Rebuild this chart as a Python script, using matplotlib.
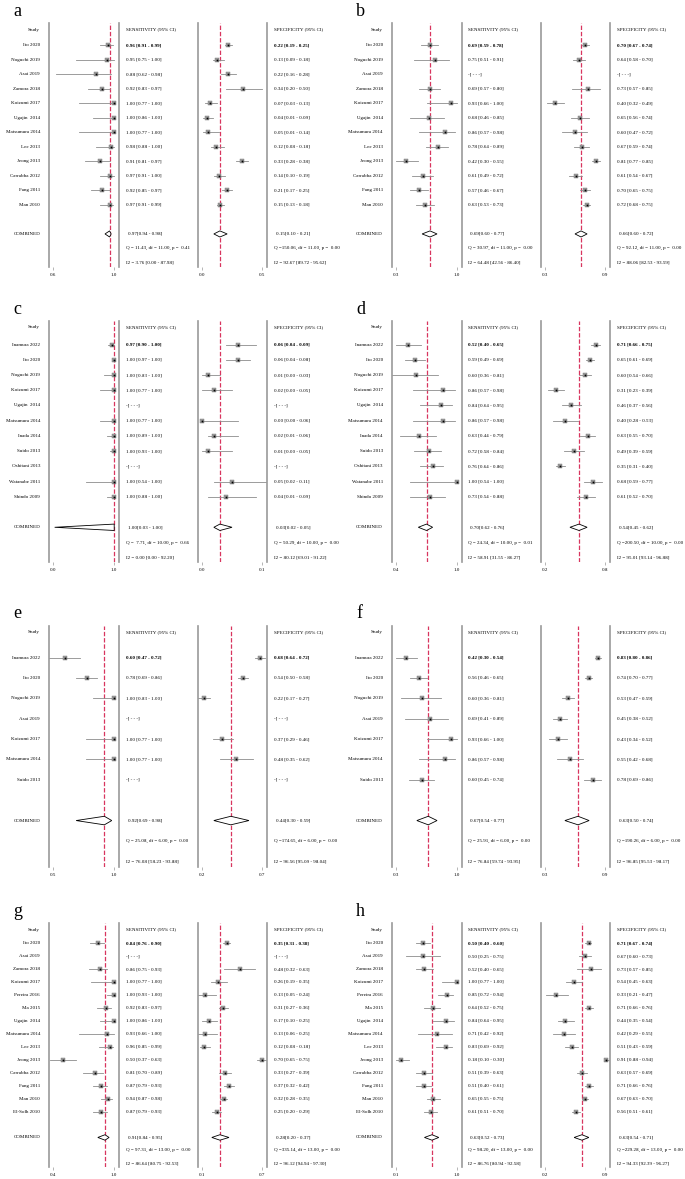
import matplotlib.pyplot as plt
from matplotlib.patches import Polygon

plt.rcParams['font.family'] = ['Liberation Serif', 'DejaVu Serif']

# ---- study names ----
studies_ab = ["Ito 2020", "Noguchi 2019", "Asai 2019", "Zamora 2018", "Koizumi 2017",
              "Ugajin  2014", "Matsumura 2014", "Lee 2013", "Jeong 2013",
              "Carrabba 2012", "Fang 2011", "Man 2010"]
studies_cd = ["Inamura 2022", "Ito 2020", "Noguchi 2019", "Koizumi 2017", "Ugajin  2014",
              "Matsumura 2014", "Inada 2014", "Suido 2013", "Oshitani 2013",
              "Watanabe 2011", "Shindo 2009"]
studies_ef = ["Inamura 2022", "Ito 2020", "Noguchi 2019", "Asai 2019", "Koizumi 2017",
              "Matsumura 2014", "Suido 2013"]
studies_gh = ["Ito 2020", "Asai 2019", "Zamora 2018", "Koizumi 2017", "Pereira 2016",
              "Ma 2015", "Ugajin  2014", "Matsumura 2014", "Lee 2013", "Jeong 2013",
              "Carrabba 2012", "Fang 2011", "Man 2010", "El-Solh 2010"]

# ---- (estimate, lower, upper); None = not estimable ----
sens_a = [(0.96, 0.91, 0.99), (0.95, 0.75, 1.00), (0.88, 0.62, 0.98), (0.92, 0.83, 0.97),
          (1.00, 0.77, 1.00), (1.00, 0.86, 1.00), (1.00, 0.77, 1.00), (0.98, 0.88, 1.00),
          (0.91, 0.81, 0.97), (0.97, 0.91, 1.00), (0.92, 0.85, 0.97), (0.97, 0.91, 0.99)]
spec_a = [(0.22, 0.19, 0.25), (0.13, 0.09, 0.18), (0.22, 0.16, 0.28), (0.34, 0.20, 0.50),
          (0.07, 0.03, 0.13), (0.04, 0.01, 0.09), (0.05, 0.01, 0.14), (0.12, 0.08, 0.18),
          (0.33, 0.28, 0.38), (0.14, 0.10, 0.19), (0.21, 0.17, 0.25), (0.15, 0.13, 0.18)]
sens_b = [(0.69, 0.59, 0.78), (0.75, 0.51, 0.91), None, (0.69, 0.57, 0.80),
          (0.93, 0.66, 1.00), (0.68, 0.46, 0.85), (0.86, 0.57, 0.98), (0.78, 0.64, 0.89),
          (0.42, 0.30, 0.55), (0.61, 0.49, 0.72), (0.57, 0.46, 0.67), (0.63, 0.53, 0.73)]
spec_b = [(0.70, 0.67, 0.74), (0.64, 0.58, 0.70), None, (0.73, 0.57, 0.85),
          (0.40, 0.32, 0.49), (0.65, 0.56, 0.74), (0.60, 0.47, 0.72), (0.67, 0.59, 0.74),
          (0.81, 0.77, 0.85), (0.61, 0.54, 0.67), (0.70, 0.65, 0.75), (0.72, 0.68, 0.75)]
sens_c = [(0.97, 0.90, 1.00), (1.00, 0.97, 1.00), (1.00, 0.83, 1.00), (1.00, 0.77, 1.00),
          None, (1.00, 0.77, 1.00), (1.00, 0.89, 1.00), (1.00, 0.93, 1.00), None,
          (1.00, 0.54, 1.00), (1.00, 0.88, 1.00)]
spec_c = [(0.06, 0.04, 0.09), (0.06, 0.04, 0.08), (0.01, 0.00, 0.03), (0.02, 0.00, 0.05),
          None, (0.00, 0.00, 0.06), (0.02, 0.01, 0.06), (0.01, 0.00, 0.05), None,
          (0.05, 0.02, 0.11), (0.04, 0.01, 0.09)]
sens_d = [(0.52, 0.40, 0.65), (0.59, 0.49, 0.69), (0.60, 0.36, 0.81), (0.86, 0.57, 0.98),
          (0.84, 0.64, 0.95), (0.86, 0.57, 0.98), (0.63, 0.44, 0.79), (0.72, 0.58, 0.84),
          (0.76, 0.64, 0.86), (1.00, 0.54, 1.00), (0.73, 0.54, 0.88)]
spec_d = [(0.71, 0.66, 0.75), (0.65, 0.61, 0.69), (0.60, 0.54, 0.66), (0.31, 0.23, 0.39),
          (0.46, 0.37, 0.56), (0.40, 0.28, 0.53), (0.63, 0.55, 0.70), (0.49, 0.39, 0.59),
          (0.35, 0.31, 0.40), (0.68, 0.59, 0.77), (0.61, 0.52, 0.70)]
sens_e = [(0.60, 0.47, 0.72), (0.78, 0.69, 0.86), (1.00, 0.83, 1.00), None,
          (1.00, 0.77, 1.00), (1.00, 0.77, 1.00), None]
spec_e = [(0.68, 0.64, 0.72), (0.54, 0.50, 0.58), (0.22, 0.17, 0.27), None,
          (0.37, 0.29, 0.46), (0.48, 0.35, 0.62), None]
sens_f = [(0.42, 0.30, 0.54), (0.56, 0.46, 0.65), (0.60, 0.36, 0.81), (0.69, 0.41, 0.89),
          (0.93, 0.66, 1.00), (0.86, 0.57, 0.98), (0.60, 0.45, 0.74)]
spec_f = [(0.83, 0.80, 0.86), (0.74, 0.70, 0.77), (0.53, 0.47, 0.59), (0.45, 0.38, 0.52),
          (0.43, 0.34, 0.52), (0.55, 0.42, 0.68), (0.78, 0.69, 0.86)]
sens_g = [(0.84, 0.76, 0.90), None, (0.86, 0.75, 0.93), (1.00, 0.77, 1.00),
          (1.00, 0.93, 1.00), (0.92, 0.83, 0.97), (1.00, 0.86, 1.00), (0.93, 0.66, 1.00),
          (0.96, 0.85, 0.99), (0.50, 0.37, 0.63), (0.81, 0.70, 0.89), (0.87, 0.79, 0.93),
          (0.94, 0.87, 0.98), (0.87, 0.79, 0.93)]
spec_g = [(0.35, 0.31, 0.38), None, (0.48, 0.32, 0.63), (0.26, 0.19, 0.35),
          (0.13, 0.05, 0.24), (0.31, 0.27, 0.36), (0.17, 0.10, 0.25), (0.13, 0.06, 0.25),
          (0.12, 0.08, 0.18), (0.70, 0.65, 0.75), (0.33, 0.27, 0.39), (0.37, 0.32, 0.42),
          (0.32, 0.28, 0.35), (0.25, 0.20, 0.29)]
sens_h = [(0.50, 0.40, 0.60), (0.50, 0.25, 0.75), (0.52, 0.40, 0.65), (1.00, 0.77, 1.00),
          (0.85, 0.72, 0.94), (0.64, 0.52, 0.75), (0.84, 0.64, 0.95), (0.71, 0.42, 0.92),
          (0.83, 0.69, 0.92), (0.18, 0.10, 0.30), (0.51, 0.39, 0.63), (0.51, 0.40, 0.61),
          (0.65, 0.55, 0.75), (0.61, 0.51, 0.70)]
spec_h = [(0.71, 0.67, 0.74), (0.67, 0.60, 0.73), (0.73, 0.57, 0.85), (0.54, 0.45, 0.63),
          (0.33, 0.21, 0.47), (0.71, 0.66, 0.76), (0.44, 0.35, 0.54), (0.42, 0.29, 0.55),
          (0.51, 0.43, 0.59), (0.91, 0.88, 0.94), (0.63, 0.57, 0.69), (0.71, 0.66, 0.76),
          (0.67, 0.63, 0.70), (0.56, 0.51, 0.61)]

# ---- pooled estimates ----
pooled_sens = {"a": (0.97, 0.94, 0.98), "b": (0.69, 0.60, 0.77), "c": (1.00, 0.03, 1.00),
               "d": (0.70, 0.62, 0.76), "e": (0.92, 0.69, 0.98), "f": (0.67, 0.54, 0.77),
               "g": (0.91, 0.84, 0.95), "h": (0.63, 0.52, 0.73)}
pooled_spec = {"a": (0.15, 0.10, 0.21), "b": (0.66, 0.60, 0.72), "c": (0.03, 0.02, 0.05),
               "d": (0.54, 0.45, 0.62), "e": (0.44, 0.30, 0.59), "f": (0.63, 0.50, 0.74),
               "g": (0.28, 0.20, 0.37), "h": (0.63, 0.54, 0.71)}

# ---- heterogeneity: Q, df, p, I2, I2 low, I2 high ----
het_sens = {"a": (11.43, 11, 0.41, 3.76, 0.00, 87.98), "b": (30.97, 11, 0.00, 64.48, 42.56, 86.40),
            "c": (7.71, 10, 0.66, 0.00, 0.00, 92.20), "d": (24.34, 10, 0.01, 58.91, 31.55, 86.27),
            "e": (25.08, 6, 0.00, 76.08, 58.23, 93.88), "f": (25.91, 6, 0.00, 76.84, 59.74, 93.95),
            "g": (97.31, 13, 0.00, 86.64, 80.75, 92.53), "h": (98.20, 13, 0.00, 86.76, 80.94, 92.58)}
het_spec = {"a": (150.06, 11, 0.00, 92.67, 89.72, 95.62), "b": (92.12, 11, 0.00, 88.06, 82.53, 93.59),
            "c": (50.29, 10, 0.00, 80.12, 69.01, 91.22), "d": (200.50, 10, 0.00, 95.01, 93.14, 96.88),
            "e": (174.65, 6, 0.00, 96.56, 95.09, 98.04), "f": (190.26, 6, 0.00, 96.85, 95.53, 98.17),
            "g": (335.14, 13, 0.00, 96.12, 94.94, 97.30), "h": (229.28, 13, 0.00, 94.33, 92.39, 96.27)}

# ---- axis end ticks ----
ticks_sens = {"a": (0.6, 1.0), "b": (0.3, 1.0), "c": (0.0, 1.0), "d": (0.4, 1.0),
              "e": (0.5, 1.0), "f": (0.3, 1.0), "g": (0.4, 1.0), "h": (0.1, 1.0)}
ticks_spec = {"a": (0.0, 0.5), "b": (0.3, 0.9), "c": (0.0, 0.1), "d": (0.2, 0.8),
              "e": (0.2, 0.7), "f": (0.3, 0.9), "g": (0.1, 0.7), "h": (0.2, 0.9)}

# ---- layout (pixels) ----
W, H = 685, 1179
COL_X = [0, 343]
ROW_Y = [(23, 267), (321, 562), (626, 867), (923, 1167)]
SENS_AX = (48.5, 118.5)
SPEC_AX = (197.5, 266.5)
LABEL_X, SENS_TX, SPEC_TX = 40, 125.5, 274
FS = 3.6
RED = '#d8355f'
GREY = '#999999'


def rect(x0, l, r, top, bottom):
    return [(x0 + l) / W, 1 - bottom / H, (r - l) / W, (bottom - top) / H]


def fmt_ci(v, sep=" "):
    if v is None:
        return "-[ - - -]"
    return f"{v[0]:.2f}{sep}[{v[1]:.2f} - {v[2]:.2f}]"


def draw_side(ax, vals, pooled, ticks, n, ylim):
    lo_t, hi_t = ticks
    pad = 0.07 * (hi_t - lo_t)
    ax.set_xlim(lo_t - pad, hi_t + pad)
    ax.set_ylim(*ylim)
    for i, v in enumerate(vals):
        if v is None:
            continue
        ax.plot([v[1], v[2]], [i, i], color='#8c8c8c', lw=0.6, zorder=2)
        ax.plot(v[0], i, marker='s', ms=3.5, mfc='#a0a0a0', mec='#6e6e6e', mew=0.3, zorder=3)
        ax.plot(v[0], i, marker='s', ms=1.3, mfc='black', mec='black', mew=0, zorder=4)
    est, lo, hi = pooled
    yc, h = n + 1, 0.21
    ax.add_patch(Polygon([(lo, yc), (est, yc - h), (hi, yc), (est, yc + h)],
                         closed=True, fc='white', ec='black', lw=0.6, zorder=3))
    ax.axvline(est, color=RED, lw=0.9, ls=(0, (3.5, 1.5)), zorder=1)
    for s in ['top', 'bottom']:
        ax.spines[s].set_visible(False)
    for s in ['left', 'right']:
        ax.spines[s].set_color(GREY)
        ax.spines[s].set_linewidth(1.2)
    ax.set_yticks([])
    ax.set_xticks(ticks)
    ax.set_xticklabels([f"{t:.1f}" for t in ticks], fontsize=FS)
    ax.tick_params(axis='x', length=2.2, width=0.5, color=GREY, pad=2)


def draw_panel(fig, letter, col, row, studies, sens, spec):
    x0 = COL_X[col]
    top, bottom = ROW_Y[row]
    n = len(studies)
    ylim = (n + 3.28, -1.55)

    tax = fig.add_axes(rect(x0, 0, 342, top, bottom))
    tax.set_xlim(0, 342)
    tax.set_ylim(*ylim)
    tax.axis('off')

    ax1 = fig.add_axes(rect(x0, *SENS_AX, top, bottom))
    ax2 = fig.add_axes(rect(x0, *SPEC_AX, top, bottom))
    draw_side(ax1, sens, pooled_sens[letter], ticks_sens[letter], n, ylim)
    draw_side(ax2, spec, pooled_spec[letter], ticks_spec[letter], n, ylim)

    # panel letter
    fig.text((x0 + 13) / W, 1 - (top - 12) / H, letter, fontsize=13, ha='left', va='center')

    # headers
    for x, txt, ha in [(LABEL_X, "Study", 'right'), (SENS_TX, "SENSITIVITY (95% CI)", 'left'),
                       (SPEC_TX, "SPECIFICITY (95% CI)", 'left')]:
        tax.annotate(txt, xy=(x, 1), xycoords=('data', 'axes fraction'), xytext=(0, -6.5),
                     textcoords='offset pixels', ha=ha, va='center', fontsize=FS)

    for i, name in enumerate(studies):
        wt = 'bold' if i == 0 else 'normal'
        tax.text(LABEL_X, i, name, ha='right', va='center', fontsize=FS)
        tax.text(SENS_TX, i, fmt_ci(sens[i]), ha='left', va='center', fontsize=FS, fontweight=wt)
        tax.text(SPEC_TX, i, fmt_ci(spec[i]), ha='left', va='center', fontsize=FS, fontweight=wt)

    tax.text(LABEL_X, n + 1, "COMBINED", ha='right', va='center', fontsize=FS)
    for x, pooled, het in [(SENS_TX, pooled_sens[letter], het_sens[letter]),
                           (SPEC_TX, pooled_spec[letter], het_spec[letter])]:
        q, df, p, i2, i2lo, i2hi = het
        tax.text(x + 2, n + 1, fmt_ci(pooled, sep=""), ha='left', va='center', fontsize=FS)
        tax.text(x, n + 2, f"Q ={q:6.2f}, df = {df:.2f}, p = {p:5.2f}",
                 ha='left', va='center', fontsize=FS)
        tax.text(x, n + 3, f"I2 = {i2:.2f} [{i2lo:.2f} - {i2hi:.2f}]",
                 ha='left', va='center', fontsize=FS)


fig = plt.figure(figsize=(W / 100, H / 100), dpi=100)
panels = [("a", 0, 0, studies_ab, sens_a, spec_a), ("b", 1, 0, studies_ab, sens_b, spec_b),
          ("c", 0, 1, studies_cd, sens_c, spec_c), ("d", 1, 1, studies_cd, sens_d, spec_d),
          ("e", 0, 2, studies_ef, sens_e, spec_e), ("f", 1, 2, studies_ef, sens_f, spec_f),
          ("g", 0, 3, studies_gh, sens_g, spec_g), ("h", 1, 3, studies_gh, sens_h, spec_h)]
for letter, col, row, studies, sens, spec in panels:
    draw_panel(fig, letter, col, row, studies, sens, spec)

fig.savefig("out.png", dpi=100, facecolor='white')
